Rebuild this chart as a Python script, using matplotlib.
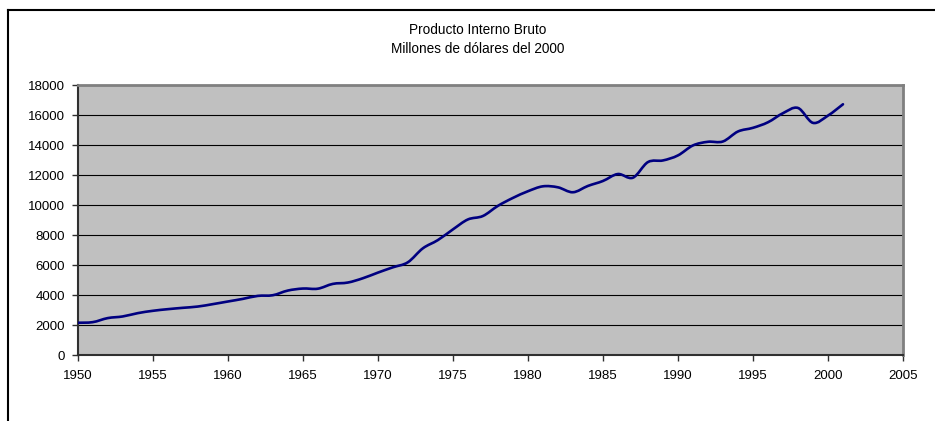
import matplotlib
matplotlib.use("Agg")
import matplotlib.pyplot as plt
import numpy as np
from matplotlib.path import Path
from matplotlib.patches import PathPatch
from matplotlib.lines import Line2D

years = list(range(1950, 2002))
pib = [2150, 2190, 2460, 2570, 2790, 2945, 3055, 3145, 3230, 3390,
       3565, 3740, 3940, 3985, 4295, 4430, 4420, 4740, 4830, 5115,
       5490, 5845, 6180, 7110, 7660, 8370, 9035, 9265, 9940, 10470,
       10915, 11245, 11180, 10850, 11270, 11600, 12065, 11820, 12860, 12970,
       13305, 13970, 14215, 14235, 14900, 15145, 15515, 16120, 16470, 15475,
       15960, 16715]
x_ticks = [1950, 1955, 1960, 1965, 1970, 1975, 1980, 1985, 1990, 1995, 2000, 2005]
y_ticks = [0, 2000, 4000, 6000, 8000, 10000, 12000, 14000, 16000, 18000]
title_lines = ["Producto Interno Bruto", "Millones de dólares del 2000"]

plt.rcParams['font.family'] = ['Liberation Sans', 'DejaVu Sans']

fig = plt.figure(figsize=(9.35, 4.21), dpi=100)
ax = fig.add_axes([77.7 / 935, 66 / 421, (903 - 77.7) / 935, (355 - 85) / 421])
ax.set_facecolor('#C0C0C0')
ax.set_xlim(1950, 2005)
ax.set_ylim(0, 18000)
ax.set_xticks(x_ticks)
ax.set_yticks(y_ticks)
ax.tick_params(axis='both', direction='out', length=4, width=1, colors='#303030',
               labelcolor='black', labelsize=9.5)
ax.tick_params(axis='x', pad=7)
ax.tick_params(axis='y', pad=5)
ax.grid(axis='y', color='black', linewidth=0.8)
ax.set_axisbelow(True)
for s in ['left', 'bottom']:
    ax.spines[s].set_color('#303030')
    ax.spines[s].set_linewidth(1.5)
for s in ['top', 'right']:
    ax.spines[s].set_color('#808080')
    ax.spines[s].set_linewidth(2)

# Excel-style smoothed line (Bezier through data points)
xs = np.array(years, dtype=float)
ys = np.array(pib, dtype=float)
n = len(xs)
verts = [(xs[0], ys[0])]
codes = [Path.MOVETO]
for i in range(n - 1):
    x0, y0 = (xs[i - 1], ys[i - 1]) if i > 0 else (xs[i], ys[i])
    x3, y3 = (xs[i + 2], ys[i + 2]) if i + 2 < n else (xs[i + 1], ys[i + 1])
    c1 = (xs[i] + (xs[i + 1] - x0) / 6, ys[i] + (ys[i + 1] - y0) / 6)
    c2 = (xs[i + 1] - (x3 - xs[i]) / 6, ys[i + 1] - (y3 - ys[i]) / 6)
    verts += [c1, c2, (xs[i + 1], ys[i + 1])]
    codes += [Path.CURVE4] * 3
patch = PathPatch(Path(verts, codes), facecolor='none', edgecolor='#000080',
                  linewidth=1.9, capstyle='round', joinstyle='round', zorder=3)
ax.add_patch(patch)

fig.text(477.5 / 935, 1 - 30 / 421, title_lines[0], ha='center', va='center', fontsize=9.8)
fig.text(477.5 / 935, 1 - 49 / 421, title_lines[1], ha='center', va='center', fontsize=9.8)

# chart frame
fig.add_artist(Line2D([7.5 / 935, 1.0], [1 - 9.5 / 421, 1 - 9.5 / 421],
                      transform=fig.transFigure, color='black', linewidth=1.5))
fig.add_artist(Line2D([7.5 / 935, 7.5 / 935], [0, 1 - 9.5 / 421],
                      transform=fig.transFigure, color='black', linewidth=1.5))

fig.savefig('out.png', dpi=100)
